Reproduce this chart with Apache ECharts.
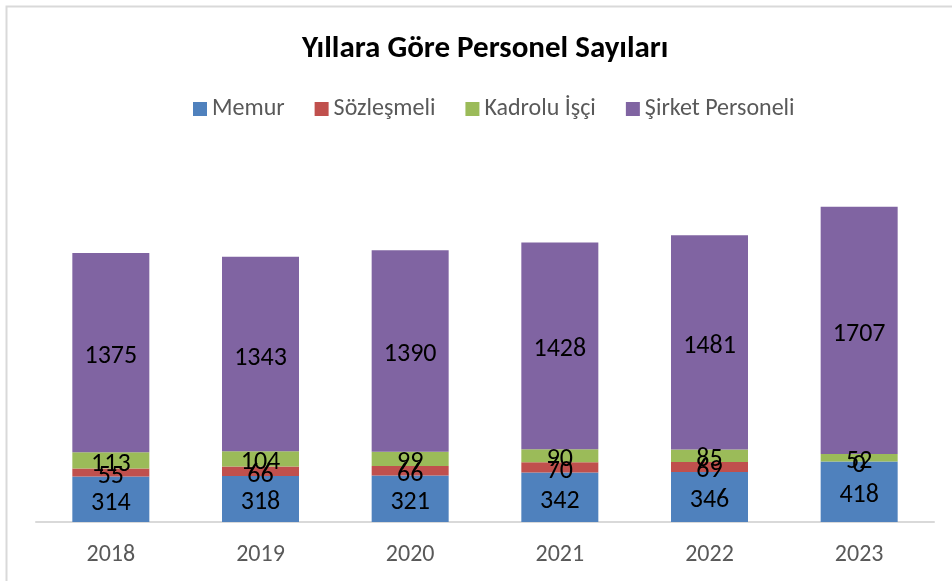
<!DOCTYPE html>
<html><head><meta charset="utf-8">
<script src="https://cdn.jsdelivr.net/npm/echarts@6/dist/echarts.min.js"></script>
<style>html,body{margin:0;padding:0;background:#fff}#c{width:952px;height:581px}</style>
</head><body><div id="c"></div>
<script>
const years = ['2018','2019','2020','2021','2022','2023'];
const memur = [314,318,321,342,346,418];
const sozlesmeli = [55,66,66,70,69,0];
const kadrolu = [113,104,99,90,85,52];
const sirket = [1375,1343,1390,1428,1481,1707];
const seriesNames = ['Memur','Sözleşmeli','Kadrolu İşçi','Şirket Personeli'];
const colors = ['#4F81BD','#C0504D','#9BBB59','#8064A2'];
const FONT = 'Carlito, Lato, sans-serif';
const chart = echarts.init(document.getElementById('c'));
const mk = (name, data, i) => ({
  name, type:'bar', stack:'t', data, barWidth:77,
  itemStyle:{color:colors[i]},
  label:{show:true, position:'inside', offset:[0,4], color:'#000', fontFamily:FONT, fontSize:26},
  emphasis:{disabled:true}
});
chart.setOption({
  animation:false,
  graphic:[{type:'rect', shape:{x:6.5,y:6.5,width:1000,height:1000}, style:{fill:'none', stroke:'#d9d9d9', lineWidth:2}}],
  title:{text:'Yıllara Göre Personel Sayıları', left:297, top:29,
    textStyle:{fontFamily:FONT, fontWeight:'bold', fontSize:31, color:'#000'}},
  legend:{top:92, left:188, itemWidth:14, itemHeight:14, itemGap:30, icon:'rect',
    textStyle:{fontFamily:FONT, fontSize:24, color:'#595959'}},
  grid:{left:36, right:18, top:160, bottom:59, containLabel:false},
  xAxis:{type:'category', data:years,
    axisLine:{lineStyle:{color:'#d9d9d9', width:2}}, axisTick:{show:false},
    axisLabel:{fontFamily:FONT, fontSize:24, color:'#595959', margin:21}},
  yAxis:{type:'value', min:0, max:2500, show:false, splitLine:{show:false}},
  series:[mk(seriesNames[0],memur,0), mk(seriesNames[1],sozlesmeli,1), mk(seriesNames[2],kadrolu,2), mk(seriesNames[3],sirket,3)]
});
</script></body></html>
